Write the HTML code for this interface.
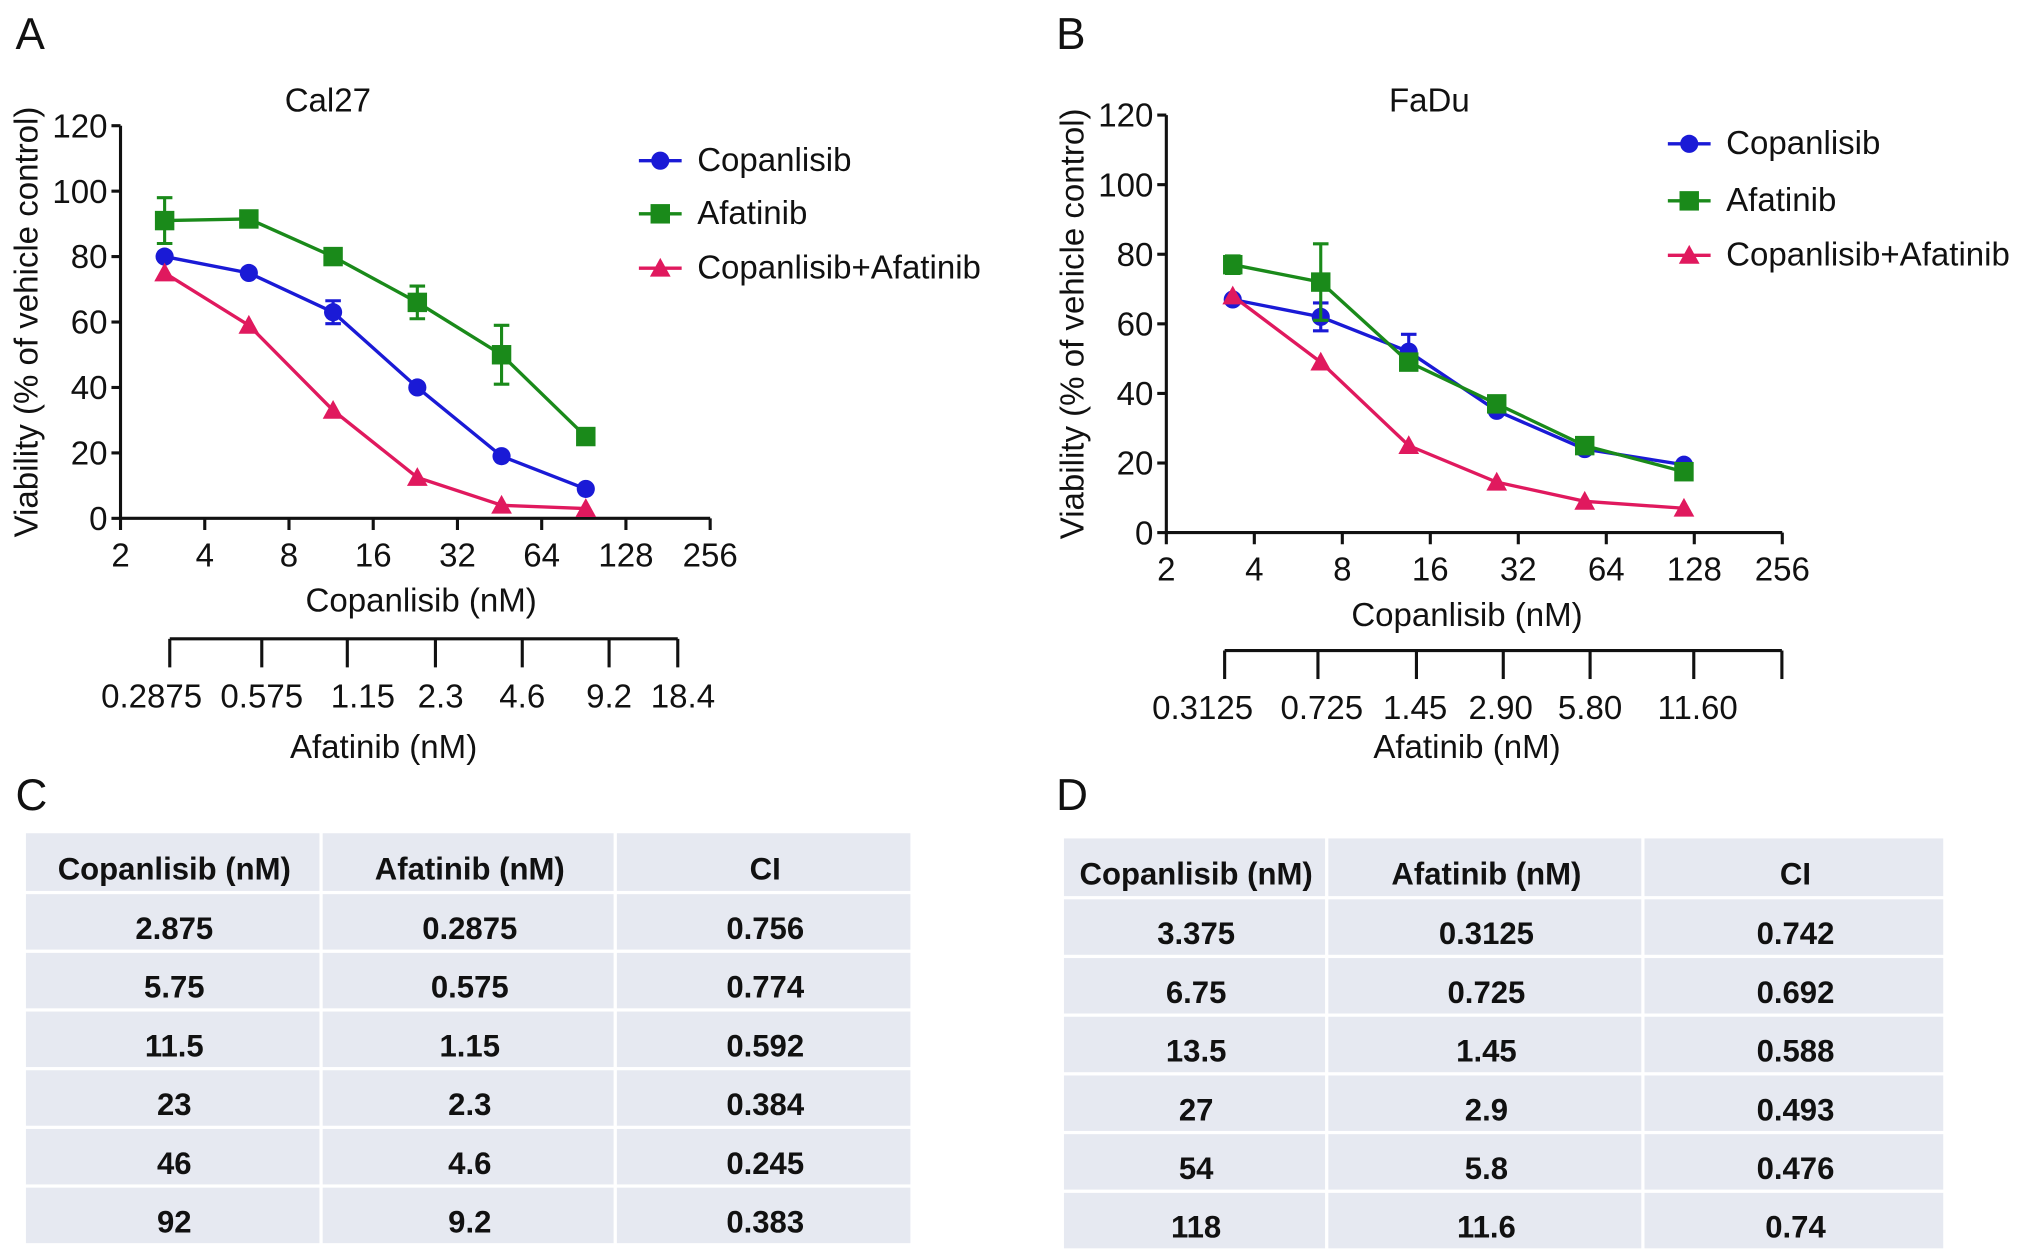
<!DOCTYPE html>
<html><head><meta charset="utf-8"><style>
html,body{margin:0;padding:0;background:#fff;}
svg{display:block;font-family:"Liberation Sans",sans-serif;}
</style></head><body>
<svg id="fig" width="2032" height="1257" viewBox="0 0 1568 970" preserveAspectRatio="none" xmlns="http://www.w3.org/2000/svg"></svg>
<script>
// Panel A data (Cal27)
const aDoses = [2.875, 5.75, 11.5, 23, 46, 92];
const aCop = [80, 75, 63, 40, 19, 9];
const aCopErr = [1, 1, 3.5, 1, 1, 1];
const aAfa = [91, 91.5, 80, 66, 50, 25];
const aAfaErr = [7, 1, 2, 5, 9, 2];
const aCombo = [75, 59, 33, 12.5, 4, 3];
const aXTicks = [2, 4, 8, 16, 32, 64, 128, 256];
const aAfaTicks = ["0.2875", "0.575", "1.15", "2.3", "4.6", "9.2", "18.4"];
// Panel B data (FaDu)
const bDoses = [3.375, 6.75, 13.5, 27, 54, 118];
const bCop = [67, 62, 52, 35, 24, 19.5];
const bCopErr = [1.5, 4, 5, 1, 1.5, 1];
const bAfa = [77, 72, 49, 37, 25, 17.5];
const bAfaErr = [2.5, 11, 2, 1, 2, 1];
const bCombo = [68, 49, 25, 14.5, 9, 7];
const bXTicks = [2, 4, 8, 16, 32, 64, 128, 256];
const bAfaTicks = ["0.3125", "0.725", "1.45", "2.90", "5.80", "11.60", ""];
const yTicks = [0, 20, 40, 60, 80, 100, 120];
// Tables
const tHead = ["Copanlisib (nM)", "Afatinib (nM)", "CI"];
const cRows = [["2.875","0.2875","0.756"],["5.75","0.575","0.774"],["11.5","1.15","0.592"],["23","2.3","0.384"],["46","4.6","0.245"],["92","9.2","0.383"]];
const dRows = [["3.375","0.3125","0.742"],["6.75","0.725","0.692"],["13.5","1.45","0.588"],["27","2.9","0.493"],["54","5.8","0.476"],["118","11.6","0.74"]];

const NS = "http://www.w3.org/2000/svg";
const svg = document.getElementById('fig');
const FS = 25.5;
function mk(tag, attrs, parent, text){
  const e = document.createElementNS(NS, tag);
  for (const k in attrs) e.setAttribute(k, attrs[k]);
  if (text !== undefined) e.textContent = text;
  (parent || svg).appendChild(e);
  return e;
}
function txt(x,y,s,size,anchor,parent,extra){
  return mk('text', Object.assign({x:x,y:y,'font-size':size,'text-anchor':anchor||'middle',fill:'#111'}, extra||{}), parent, s);
}

function panel(cfg){
  const g = mk('g', {});
  
  
  const xs = v => cfg.x0 + (Math.log2(v) - 1) * cfg.dx;
  const ys = v => cfg.y0 - v * cfg.py;
  const ax = mk('g', {stroke:'#111','stroke-width':2.4,fill:'none'}, g);
  
  
  mk('line', {x1:cfg.x0, y1:ys(120), x2:cfg.x0, y2:ys(0)}, ax);
  mk('line', {x1:cfg.x0, y1:ys(0), x2:xs(256), y2:ys(0)}, ax);
  yTicks.forEach(v => {
    mk('line', {x1:cfg.x0-7, y1:ys(v), x2:cfg.x0, y2:ys(v)}, ax);
    const t = txt(cfg.x0-10, ys(v)+9, String(v), FS, 'end', g);
    
    
  });
  cfg.xTicks.forEach(v => {
    mk('line', {x1:xs(v), y1:ys(0), x2:xs(v), y2:ys(0)+9}, ax);
    const t = txt(xs(v), ys(0)+37, String(v), FS, 'middle', g);
    
    
  });
  let t = txt(cfg.x0 + 232, ys(0)+72, 'Copanlisib (nM)', FS, 'middle', g);
  
  
  t = txt(0, 0, 'Viability (% of vehicle control)', FS, 'middle', g, {transform:`translate(${cfg.x0-64},${(ys(0)+ys(120))/2}) rotate(-90)`});
  
  
  t = txt(cfg.titleX, 86, cfg.title, FS, 'middle', g);
  
  
  const sa = mk('g', {stroke:'#111','stroke-width':2.4,fill:'none'}, g);
  
  
  mk('line', {x1:cfg.sx[0], y1:cfg.sy, x2:cfg.sx[cfg.sx.length-1], y2:cfg.sy}, sa);
  cfg.sx.forEach(x => mk('line', {x1:x, y1:cfg.sy, x2:x, y2:cfg.sy+22}, sa));
  cfg.afaTicks.forEach((s,i) => {
    const tt = txt(cfg.slx[i], cfg.sy+53, s, FS, 'middle', g);
    
    
  });
  t = txt(cfg.afaTitleX, 585, 'Afatinib (nM)', FS, 'middle', g);
  
  
  const series = [
    {name:'copanlisib', vals:cfg.cop, err:cfg.copErr, color:'#1a1ad6', shape:'circle', label:'Copanlisib'},
    {name:'afatinib', vals:cfg.afa, err:cfg.afaErr, color:'#1a8a1a', shape:'square', label:'Afatinib'},
    {name:'combination', vals:cfg.combo, err:null, color:'#e0195e', shape:'tri', label:'Copanlisib+Afatinib'}
  ];
  function marker(x,y,shape,color,parent,sz){
    sz = sz||1;
    if (shape==='circle') return mk('circle',{cx:x,cy:y,r:7*sz,fill:color},parent);
    if (shape==='square') return mk('rect',{x:x-7.5*sz,y:y-7.5*sz,width:15*sz,height:15*sz,fill:color},parent);
    return mk('polygon',{points:`${x},${y-8*sz} ${x-8*sz},${y+6.5*sz} ${x+8*sz},${y+6.5*sz}`,fill:color},parent);
  }
  series.forEach((s, si) => {
    const sg = mk('g', {}, g);
    
    
    const pts = s.vals.map((v,i) => `${xs(cfg.doses[i])},${ys(v)}`).join(' ');
    mk('polyline', {points:pts, fill:'none', stroke:s.color, 'stroke-width':2.6}, sg);
    s.vals.forEach((v,i) => {
      const x = xs(cfg.doses[i]), y = ys(v);
      if (s.err && s.err[i] > 1.5) {
        const e = s.err[i];
        mk('path', {d:`M${x},${ys(v+e)}V${ys(v-e)}M${x-6},${ys(v+e)}H${x+6}M${x-6},${ys(v-e)}H${x+6}`, stroke:s.color, 'stroke-width':2.4, fill:'none'}, sg);
      }
      const m = marker(x, y, s.shape, s.color, sg);
      
      
    });
    const lg = mk('g', {}, g);
    
    
    const ly = cfg.legY[si];
    mk('line', {x1:cfg.legX, y1:ly, x2:cfg.legX+33, y2:ly, stroke:s.color, 'stroke-width':2.6}, lg);
    marker(cfg.legX+16.5, ly, s.shape, s.color, lg);
    txt(cfg.legX+45, ly+8, s.label, FS, 'start', lg);
  });
}

panel({name:'panel-a-chart', x0:93, y0:400, py:50.5/20, dx:65, doses:aDoses, cop:aCop, copErr:aCopErr, afa:aAfa, afaErr:aAfaErr, combo:aCombo,
  xTicks:aXTicks, afaTicks:aAfaTicks, title:'Cal27', titleX:253, sx:[131,202,268,336,403,470,523], slx:[117,202,280,340,403,470,527], sy:493, afaTitleX:296,
  legX:493, legY:[124,165,207]});
panel({name:'panel-b-chart', x0:900, y0:411, py:53.7/20, dx:67.9, doses:bDoses, cop:bCop, copErr:bCopErr, afa:bAfa, afaErr:bAfaErr, combo:bCombo,
  xTicks:bXTicks, afaTicks:bAfaTicks, title:'FaDu', titleX:1103, sx:[945,1017,1093,1160,1227,1307,1375], slx:[928,1020,1092,1158,1227,1310,1375], sy:502, afaTitleX:1132,
  legX:1287, legY:[111,155,197]});

[['A',12,38],['B',815,38],['C',12,625],['D',815,625]].forEach(l => {
  const t = txt(l[1], l[2], l[0], 34, 'start');
  
  
});

function table(name, x0, top, cols, rows, headH, rowH){
  const g = mk('g', {});
  
  
  const all = [tHead].concat(rows);
  let y = top;
  all.forEach((r, ri) => {
    const h = ri === 0 ? headH : rowH;
    let x = x0;
    r.forEach((c, ci) => {
      const w = cols[ci];
      mk('rect', {x:x, y:y, width:w-2.5, height:h-2.5, fill:'#e6e9f1'}, g);
      const t = txt(x + w/2, y + h/2 + 12, c, 24, 'middle', g, {'font-weight':'bold'});
      
      
      x += w;
    });
    y += h;
  });
}
table('table-c', 20, 643, [229,227,229], cRows, 47, 45.3);
table('table-d', 821, 647, [204,244,233], dRows, 47, 45.3);
</script>
</body></html>
